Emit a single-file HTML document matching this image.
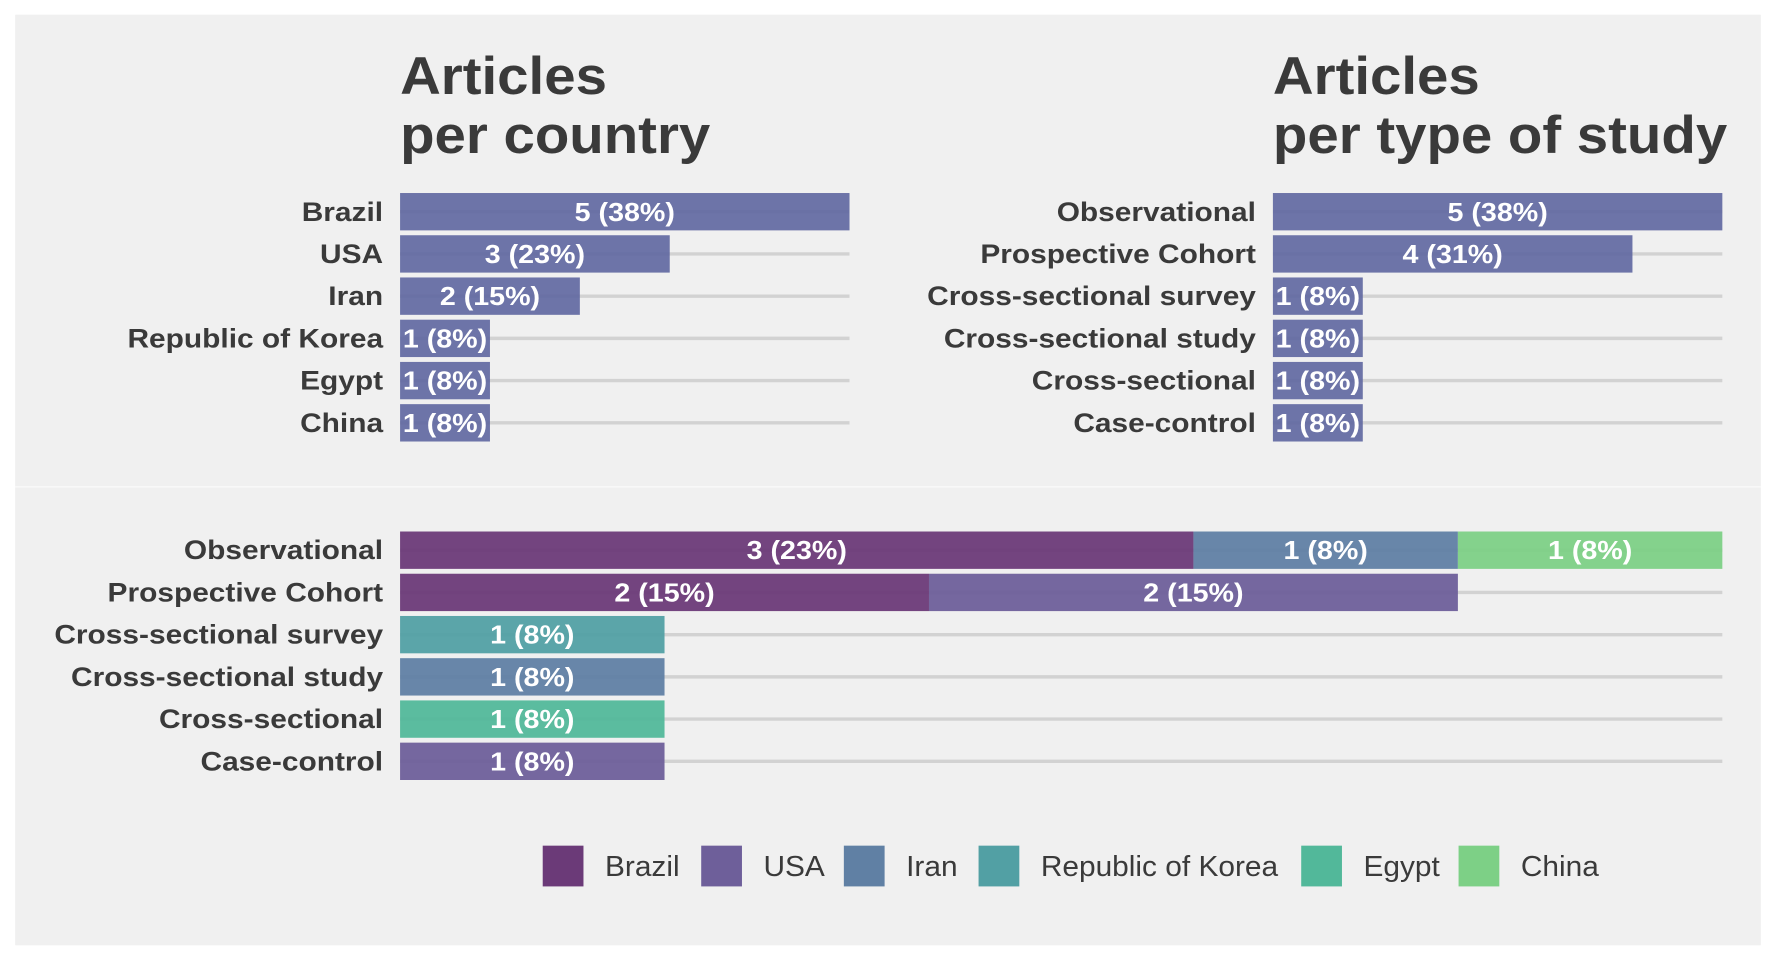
<!DOCTYPE html>
<html><head><meta charset="utf-8"><style>
html,body{margin:0;padding:0;background:#fff;}
svg{display:block;font-family:"Liberation Sans",sans-serif;}
</style></head><body>
<svg id="c" width="1776" height="960" viewBox="0 0 1568 848">
<rect x="13" y="13" width="1542" height="822" fill="#f0f0f0"/>
<line x1="13" y1="430" x2="1555" y2="430" stroke="#f8f8f8" stroke-width="1.5"/>
<g id="g"></g>
</svg>
<script>
const countries = ["Brazil","USA","Iran","Republic of Korea","Egypt","China"];
const countryCounts = [5,3,2,1,1,1];
const countryPct = ["38%","23%","15%","8%","8%","8%"];
const studyTypes = ["Observational","Prospective Cohort","Cross-sectional survey","Cross-sectional study","Cross-sectional","Case-control"];
const studyCounts = [5,4,1,1,1,1];
const studyPct = ["38%","31%","8%","8%","8%","8%"];
const stackBrazil = [3,2,0,0,0,0];
const stackUSA    = [0,2,0,0,0,1];
const stackIran   = [1,0,0,1,0,0];
const stackKorea  = [0,0,1,0,0,0];
const stackEgypt  = [0,0,0,0,1,0];
const stackChina  = [1,0,0,0,0,0];
const colors = ["#6b3a78","#6e5f9a","#6080a4","#52a0a4","#52b89a","#7dd086"];
const NS="http://www.w3.org/2000/svg";
const g=document.getElementById('g');
function el(t,a,txt){const e=document.createElementNS(NS,t);for(const k in a)e.setAttribute(k,a[k]);if(txt!==undefined)e.textContent=txt;g.appendChild(e);return e;}
function txt(x,y,s,a,k){const e=el('text',Object.assign({x:0,y:0,transform:'translate('+x+','+y+') scale('+k+',1)'},a),s);return e;}
const rowY=i=>187+i*37.3;
function title(x,l1,l2,n){
 let t=txt(x,83,l1,{'font-size':47,'font-weight':'bold',fill:'#3a3a3a'},1.06);
 
 t=txt(x,135,l2,{'font-size':47,'font-weight':'bold',fill:'#3a3a3a'},1.06);
 
}
function simple(x0,x1,cats,vals,pct,maxV,n){
 const sx=v=>x0+(x1-x0)*v/maxV;
 cats.forEach((c,i)=>{
  const y=rowY(i);
  let l=el('line',{x1:x0,x2:x1,y1:y,y2:y,stroke:'#d2d2d2','stroke-width':3});
  
  let t=txt(x0-15,y+8,c,{'text-anchor':'end','font-size':24,'font-weight':'bold',fill:'#3a3a3a'},1.1);
  
 });
 cats.forEach((c,i)=>{
  const y=rowY(i);
  let r=el('rect',{x:x0,y:y-16.5,width:sx(vals[i])-x0,height:33,fill:'#5e66a0','fill-opacity':0.9});
  
  let t=txt((x0+sx(vals[i]))/2,y+8,vals[i]+' ('+pct[i]+')',{'text-anchor':'middle','font-size':23,'font-weight':'bold',fill:'#fff'},1.1);
  
 });
}
title(353,'Articles','per country','country');
title(1124,'Articles','per type of study','study');
simple(353,750,countries,countryCounts,countryPct,5,'country');
simple(1124,1521,studyTypes,studyCounts,studyPct,5,'study');
const stacks=[stackBrazil,stackUSA,stackIran,stackKorea,stackEgypt,stackChina];
const x0=353,x1=1521,maxV=5;
const sx=v=>x0+(x1-x0)*v/maxV;
const pctOf=v=>Math.round(v/13*100)+'%';
studyTypes.forEach((c,i)=>{
 const y=486+i*37.3;
 let l=el('line',{x1:x0,x2:x1,y1:y,y2:y,stroke:'#d2d2d2','stroke-width':3});
 
 let t=txt(x0-15,y+8,c,{'text-anchor':'end','font-size':24,'font-weight':'bold',fill:'#3a3a3a'},1.1);
 
});
studyTypes.forEach((c,i)=>{
 const y=486+i*37.3;let acc=0;
 stacks.forEach((s,k)=>{
  const v=s[i];if(!v)return;
  let r=el('rect',{x:sx(acc),y:y-16.5,width:sx(acc+v)-sx(acc),height:33,fill:colors[k],'fill-opacity':0.95});
  
  
  let t=txt((sx(acc)+sx(acc+v))/2,y+8,v+' ('+pctOf(v)+')',{'text-anchor':'middle','font-size':23,'font-weight':'bold',fill:'#fff'},1.1);
  
  acc+=v;
 });
});
const legX=[479,619,745,864,1149,1288];
countries.forEach((c,k)=>{
 let r=el('rect',{x:legX[k],y:747,width:36,height:36,fill:colors[k]});
 
 let t=txt(legX[k]+55,774,c,{'font-size':25,fill:'#3a3a3a'},1.055);
 
});
</script>
</body></html>
